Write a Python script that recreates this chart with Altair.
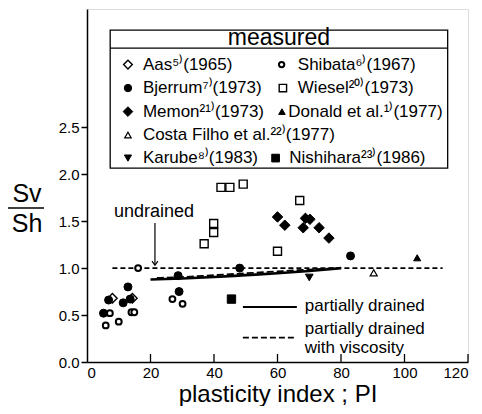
import altair as alt
import pandas as pd

# ---------------- measured data : plasticity index PI  vs  Sv/Sh ----------------
aas_pi = [8.0, 14.3]
aas_r = [0.68, 0.68]
shibata_pi = [16.1, 7.2, 5.9, 10.0, 14.0, 14.9, 26.9, 30.1]
shibata_r = [1.00, 0.52, 0.39, 0.43, 0.53, 0.53, 0.67, 0.62]
bjerrum_pi = [5.2, 6.8, 11.4, 12.9, 13.6, 28.7, 29.0, 48.1, 83.0]
bjerrum_r = [0.52, 0.66, 0.63, 0.80, 0.67, 0.92, 0.75, 1.00, 1.13]
wiesel_pi = [36.9, 39.9, 39.9, 42.2, 45.0, 49.2, 60.0, 67.0]
wiesel_r = [1.26, 1.38, 1.475, 1.86, 1.86, 1.895, 1.18, 1.72]
memon_pi = [60.0, 62.3, 68.8, 70.2, 68.1, 73.1, 76.2]
memon_r = [1.545, 1.457, 1.53, 1.52, 1.43, 1.43, 1.32]
donald_pi = [104.0]
donald_r = [1.11]
costa_pi = [90.3]
costa_r = [0.95]
karube_pi = [70.0]
karube_r = [0.90]
nishihara_pi = [45.5]
nishihara_r = [0.67]

series = ["Aas", "Shibata", "Bjerrum", "Wiesel", "Memon", "Donald",
          "Costa Filho", "Karube", "Nishihara"]
series_pi = [aas_pi, shibata_pi, bjerrum_pi, wiesel_pi, memon_pi, donald_pi,
             costa_pi, karube_pi, nishihara_pi]
series_r = [aas_r, shibata_r, bjerrum_r, wiesel_r, memon_r, donald_r,
            costa_r, karube_r, nishihara_r]
legend_labels = ["Aas⁵⁾(1965)", "Shibata⁶⁾(1967)", "Bjerrum⁷⁾(1973)",
                 "Wiesel²⁰⁾(1973)", "Memon²¹⁾(1973)", "Donald et al.¹⁾(1977)",
                 "Costa Filho et al.²²⁾(1977)", "Karube⁸⁾(1983)",
                 "Nishihara²³⁾(1986)"]

# ---------------- theoretical curves ----------------
undrained_pi = [8, 112]
undrained_r = [1.0, 1.0]
drained_pi = [20, 30, 40, 50, 60, 70, 80]
drained_r = [0.878, 0.89, 0.905, 0.925, 0.945, 0.97, 1.0]
visc_pi = [22, 30, 40, 50, 60, 70, 79]
visc_r = [0.895, 0.905, 0.925, 0.945, 0.965, 0.985, 1.0]

x_ticks = [0, 20, 40, 60, 80, 100, 120]
y_ticks = [0.0, 0.5, 1.0, 1.5, 2.0, 2.5]

# ---------------- layout of the in-plot legend (data units) ----------------
leg_sym_pi = [12.9, 61.3, 12.9, 61.7, 12.9, 61.4, 12.9, 12.9, 59.4]
leg_txt_pi = [17.6, 66.4, 17.6, 66.4, 17.6, 63.4, 17.6, 17.6, 63.7]
leg_rows = [0, 0, 1, 1, 2, 2, 3, 4, 4]
row_r = [3.168, 2.918, 2.667, 2.417, 2.172]
box = dict(pi=7.3, pi2=113.6, r=3.536, r2=2.065)
header_r = 3.344

styles = {
    "Aas": dict(shape="diamond", fill="white", size=90, strokeWidth=1.4),
    "Shibata": dict(shape="circle", fill="white", size=34, strokeWidth=2.0),
    "Bjerrum": dict(shape="circle", fill="black", size=64, strokeWidth=1.0),
    "Wiesel": dict(shape="square", fill="white", size=64, strokeWidth=1.4),
    "Memon": dict(shape="diamond", fill="black", size=110, strokeWidth=1.0),
    "Donald": dict(shape="triangle-up", fill="black", size=50, strokeWidth=1.0),
    "Costa Filho": dict(shape="triangle-up", fill="white", size=50, strokeWidth=1.2),
    "Karube": dict(shape="triangle-down", fill="black", size=60, strokeWidth=1.0),
    "Nishihara": dict(shape="square", fill="black", size=70, strokeWidth=1.0),
}

FONT = "Liberation Sans"

xs = alt.Scale(domain=[0, 120], nice=False, zero=False)
ys = alt.Scale(domain=[0, 3.76], nice=False, zero=False)
xa = alt.Axis(values=x_ticks, tickSize=0, labelFontSize=15, labelPadding=3,
              labelFlush=True, title="plasticity index ; PI", titleFontSize=24,
              titleFontWeight="normal", titlePadding=2, grid=False,
              domainColor="black", domainWidth=1.5, labelColor="black",
              titleColor="black", labelFont=FONT, titleFont=FONT)
ya = alt.Axis(values=y_ticks, format=".1f", tickSize=6, tickColor="black",
              tickWidth=1.5, labelFontSize=15, labelPadding=2, title=None,
              grid=False, domainColor="black", domainWidth=1.5,
              labelColor="black", labelFont=FONT)
X = alt.X("pi:Q", scale=xs, axis=xa)
Y = alt.Y("r:Q", scale=ys, axis=ya)

layers = []

# inner x ticks (pointing up)
tick_df = pd.DataFrame({"pi": x_ticks[1:]})
layers.append(alt.Chart(tick_df).mark_rule(color="black", strokeWidth=1.3).encode(
    x=X, y=alt.value(353), y2=alt.value(345)))

# undrained dashed line
layers.append(alt.Chart(pd.DataFrame({"pi": undrained_pi, "r": undrained_r}))
              .mark_line(color="black", strokeWidth=1.6, strokeDash=[5, 3])
              .encode(x=X, y=Y))
# partially drained (solid)
layers.append(alt.Chart(pd.DataFrame({"pi": drained_pi, "r": drained_r}))
              .mark_line(color="black", strokeWidth=2.6, interpolate="monotone")
              .encode(x=X, y=Y))
# partially drained with viscosity (dashed)
layers.append(alt.Chart(pd.DataFrame({"pi": visc_pi, "r": visc_r}))
              .mark_line(color="black", strokeWidth=1.8, strokeDash=[7, 3],
                         interpolate="monotone")
              .encode(x=X, y=Y))

# arrow for "undrained"
arrow_df = pd.DataFrame({"pi": [21.4], "r": [1.48], "r2": [1.035]})
layers.append(alt.Chart(arrow_df).mark_rule(color="black", strokeWidth=1.2).encode(
    x=X, y=Y, y2=alt.Y2("r2:Q")))
head_df = pd.DataFrame({"pi": [21.4], "r": [1.03]})
layers.append(alt.Chart(head_df).mark_point(
    shape="M -0.7 -1 L 0 0 L 0.7 -1", size=70, stroke="black", strokeWidth=1.2,
    fill="transparent", opacity=1).encode(x=X, y=Y))
layers.append(alt.Chart(pd.DataFrame({"pi": [21.1], "r": [1.60], "t": ["undrained"]}))
              .mark_text(font=FONT, fontSize=18, align="center", baseline="middle",
                         color="black")
              .encode(x=X, y=Y, text="t:N"))

# line legend (lower right)
ll_df = pd.DataFrame({"pi": [49.1, 66.1], "r": [0.586, 0.586]})
layers.append(alt.Chart(ll_df).mark_line(color="black", strokeWidth=1.8).encode(x=X, y=Y))
ll2_df = pd.DataFrame({"pi": [49.1, 66.1], "r": [0.26, 0.26]})
layers.append(alt.Chart(ll2_df).mark_line(color="black", strokeWidth=1.6,
                                          strokeDash=[6, 3]).encode(x=X, y=Y))
lt_df = pd.DataFrame({"pi": [68.6, 68.6, 68.6], "r": [0.60, 0.355, 0.15],
                      "t": ["partially drained", "partially drained", "with viscosity"]})
layers.append(alt.Chart(lt_df).mark_text(font=FONT, fontSize=17, align="left",
                                         baseline="middle", color="black")
              .encode(x=X, y=Y, text="t:N"))

# measured points, one layer per source
for name, pis, rs in zip(series, series_pi, series_r):
    st = styles[name]
    df = pd.DataFrame({"pi": pis, "r": rs})
    layers.append(alt.Chart(df).mark_point(
        shape=st["shape"], size=st["size"], fill=st["fill"], stroke="black",
        strokeWidth=st["strokeWidth"], opacity=1, fillOpacity=1).encode(x=X, y=Y))

# legend box
layers.append(alt.Chart(pd.DataFrame([box])).mark_rect(
    fill="white", stroke="black", strokeWidth=1.3).encode(
    x=X, x2=alt.X2("pi2:Q"), y=Y, y2=alt.Y2("r2:Q")))
layers.append(alt.Chart(pd.DataFrame({"pi": [box["pi"]], "pi2": [box["pi2"]],
                                      "r": [header_r]}))
              .mark_rule(color="black", strokeWidth=1.3)
              .encode(x=X, x2=alt.X2("pi2:Q"), y=Y))
layers.append(alt.Chart(pd.DataFrame({"pi": [(box["pi"] + box["pi2"]) / 2],
                                      "r": [3.446], "t": ["measured"]}))
              .mark_text(font=FONT, fontSize=23, align="center", baseline="middle",
                         color="black")
              .encode(x=X, y=Y, text="t:N"))
for i, name in enumerate(series):
    st = styles[name]
    df = pd.DataFrame({"pi": [leg_sym_pi[i]], "r": [row_r[leg_rows[i]]]})
    layers.append(alt.Chart(df).mark_point(
        shape=st["shape"], size=st["size"] * 0.85, fill=st["fill"], stroke="black",
        strokeWidth=st["strokeWidth"], opacity=1, fillOpacity=1).encode(x=X, y=Y))
leg_txt_df = pd.DataFrame({"pi": leg_txt_pi,
                           "r": [row_r[k] for k in leg_rows],
                           "t": legend_labels})
layers.append(alt.Chart(leg_txt_df).mark_text(font=FONT, fontSize=17, align="left",
                                              baseline="middle", color="black")
              .encode(x=X, y=Y, text="t:N"))

# y-axis title as a fraction Sv / Sh
one = pd.DataFrame({"k": [0]})
layers.append(alt.Chart(one).mark_text(text="Sv", font=FONT, fontSize=25,
                                       align="center", baseline="middle", color="black")
              .encode(x=alt.value(-60), y=alt.value(185)))
layers.append(alt.Chart(one).mark_rule(color="black", strokeWidth=1.5)
              .encode(x=alt.value(-82), x2=alt.value(-43), y=alt.value(199)))
layers.append(alt.Chart(one).mark_text(text="Sh", font=FONT, fontSize=25,
                                       align="center", baseline="middle", color="black")
              .encode(x=alt.value(-60), y=alt.value(215)))

chart = alt.layer(*layers).properties(
    width=381, height=353,
    padding={"left": 79, "top": 1, "right": 6, "bottom": 44},
    autosize=alt.AutoSizeParams(type="none"),
).configure_view(stroke="black", strokeWidth=1.5).configure(font=FONT)

chart.save("out.html", embed_options={"renderer": "svg", "actions": False})
